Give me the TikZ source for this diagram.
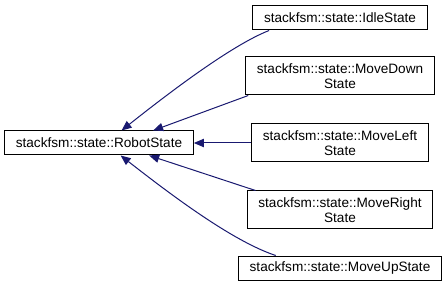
\documentclass[tikz,border=0pt]{standalone}
\usepackage{fontspec}
\setmainfont{Liberation Sans}
\usetikzlibrary{arrows.meta}
\definecolor{edgeblue}{HTML}{191970}

\begin{document}
\begin{tikzpicture}[x=0.75pt,y=-0.75pt,
    cls/.style={draw=black,line width=0.75pt,fill=white,inner xsep=8.4pt,
      minimum height=18pt,align=center,font=\fontsize{10.2}{11.5}\selectfont},
    cls2/.style={cls,minimum height=28.5pt},
    inh/.style={draw=edgeblue,line width=0.75pt,
      -{Triangle[length=7.5pt,width=6.2pt]}}]
  \useasboundingbox (0,0) rectangle (447,285);

  % base class
  \node[cls] (robot) at (99,143) {stackfsm::state::RobotState};

  % derived states
  \node[cls]  (idle)      at (340,18)  {stackfsm::state::IdleState};
  \node[cls2] (movedown)  at (340,76)  {stackfsm::state::MoveDown\\State};
  \node[cls2] (moveleft)  at (340,143) {stackfsm::state::MoveLeft\\State};
  \node[cls2] (moveright) at (340,210) {stackfsm::state::MoveRight\\State};
  \node[cls]  (moveup)    at (340,268) {stackfsm::state::MoveUpState};

  % inheritance edges
  \draw[inh] (idle.190.8) .. controls (232,45) and (170,92) .. (robot.29.7);
  \draw[inh] (movedown.192.7) -- (robot.13.8);
  \draw[inh] (moveleft.west) -- (robot.east);
  \draw[inh] (moveright.167.3) -- (robot.346.2);
  \draw[inh] (moveup.169.2) .. controls (232,241) and (170,194) .. (robot.330.3);
\end{tikzpicture}
\end{document}
